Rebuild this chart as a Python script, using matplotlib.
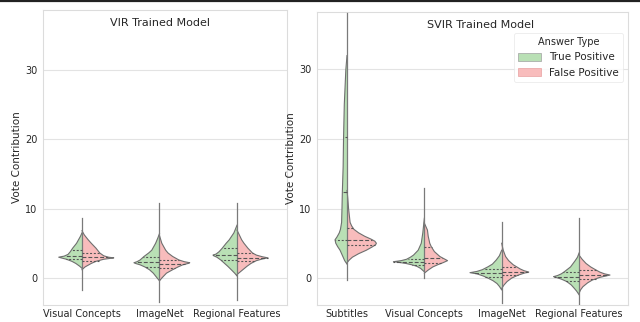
import matplotlib
matplotlib.use("Agg")
import matplotlib.pyplot as plt
from matplotlib.patches import Patch
from matplotlib.lines import Line2D
import numpy as np

# categories
vir_cats = ["Visual Concepts", "ImageNet", "Regional Features"]
svir_cats = ["Subtitles", "Visual Concepts", "ImageNet", "Regional Features"]

# violin outlines: (value, half width) bottom -> top
# VIR model, true positive (green, left half)
vir_tp = [
    [(1.4, 0), (1.7, 0.03), (2.1, 0.08), (2.4, 0.13), (2.7, 0.20), (2.9, 0.27),
     (3.0, 0.30), (3.15, 0.23), (3.4, 0.18), (3.8, 0.15), (4.3, 0.12), (5.0, 0.07),
     (5.5, 0.045), (6.0, 0.02), (6.5, 0)],
    [(-0.4, 0), (0.0, 0.03), (0.7, 0.08), (1.2, 0.13), (1.6, 0.19), (1.9, 0.25),
     (2.1, 0.31), (2.2, 0.33), (2.35, 0.29), (2.6, 0.25), (3.1, 0.20), (3.6, 0.14),
     (4.0, 0.10), (5.0, 0.05), (5.8, 0.02), (6.4, 0)],
    [(0.3, 0), (0.7, 0.03), (1.15, 0.07), (1.7, 0.12), (2.1, 0.16), (2.6, 0.21),
     (3.0, 0.26), (3.2, 0.30), (3.3, 0.31), (3.45, 0.27), (3.8, 0.23), (4.3, 0.19),
     (5.0, 0.14), (5.5, 0.10), (6.5, 0.04), (7.6, 0)],
]
# VIR model, false positive (red, right half)
vir_fp = [
    [(1.2, 0), (1.6, 0.04), (2.1, 0.12), (2.4, 0.18), (2.7, 0.28), (2.85, 0.38),
     (2.9, 0.41), (3.0, 0.34), (3.2, 0.28), (3.6, 0.23), (4.3, 0.18), (5.0, 0.12),
     (5.5, 0.08), (6.2, 0.03), (6.8, 0)],
    [(-0.4, 0), (0.0, 0.03), (0.7, 0.09), (1.2, 0.17), (1.6, 0.24), (1.9, 0.30),
     (2.1, 0.37), (2.2, 0.39), (2.35, 0.32), (2.6, 0.25), (3.1, 0.17), (3.6, 0.11),
     (4.0, 0.08), (5.0, 0.03), (6.1, 0)],
    [(0.5, 0), (1.15, 0.07), (1.7, 0.13), (2.1, 0.18), (2.5, 0.25), (2.75, 0.33),
     (2.9, 0.40), (3.05, 0.33), (3.3, 0.25), (3.6, 0.20), (4.3, 0.14), (5.0, 0.09),
     (5.5, 0.06), (6.2, 0.03), (6.9, 0)],
]
# SVIR model, true positive
svir_tp = [
    [(2.0, 0), (2.5, 0.03), (3.0, 0.05), (3.5, 0.07), (4.0, 0.09), (4.5, 0.12),
     (5.0, 0.145), (5.5, 0.155), (5.9, 0.13), (6.5, 0.10), (7.0, 0.085), (8.0, 0.07),
     (10.0, 0.065), (12.5, 0.06), (16.0, 0.05), (20.0, 0.045), (25.0, 0.035),
     (30.0, 0.015), (32.0, 0)],
    [(0.9, 0), (1.4, 0.05), (1.7, 0.10), (1.9, 0.16), (2.1, 0.24), (2.25, 0.33),
     (2.35, 0.40), (2.5, 0.30), (2.7, 0.23), (3.0, 0.18), (3.3, 0.14), (4.0, 0.08),
     (5.0, 0.04), (6.5, 0.02), (8.6, 0)],
    [(-1.7, 0), (-1.2, 0.03), (-0.8, 0.06), (-0.4, 0.11), (-0.05, 0.17), (0.3, 0.24),
     (0.6, 0.32), (0.77, 0.41), (0.95, 0.32), (1.2, 0.25), (1.6, 0.18), (2.0, 0.12),
     (2.6, 0.07), (3.2, 0.03), (4.0, 0)],
    [(-2.4, 0), (-1.9, 0.03), (-1.5, 0.06), (-1.0, 0.10), (-0.5, 0.16), (-0.15, 0.23),
     (0.1, 0.30), (0.2, 0.33), (0.35, 0.28), (0.6, 0.23), (0.9, 0.19), (1.6, 0.11),
     (2.5, 0.05), (3.0, 0.02), (3.6, 0)],
]
# SVIR model, false positive
svir_fp = [
    [(2.2, 0), (2.6, 0.03), (3.0, 0.07), (3.5, 0.15), (4.0, 0.25), (4.5, 0.33),
     (4.8, 0.37), (5.0, 0.38), (5.3, 0.36), (5.6, 0.31), (6.0, 0.23), (6.5, 0.15),
     (7.0, 0.09), (7.5, 0.06), (8.0, 0.04), (9.0, 0.03), (10.0, 0.02), (11.5, 0.01),
     (12.6, 0)],
    [(0.7, 0), (1.15, 0.05), (1.6, 0.11), (1.9, 0.17), (2.2, 0.24), (2.5, 0.30),
     (2.8, 0.25), (3.1, 0.20), (3.8, 0.13), (4.5, 0.09), (5.0, 0.07), (6.0, 0.05),
     (6.9, 0.04), (7.9, 0)],
    [(-1.5, 0), (-1.0, 0.03), (-0.5, 0.07), (0.0, 0.13), (0.4, 0.21), (0.7, 0.29),
     (0.86, 0.35), (1.05, 0.29), (1.3, 0.24), (1.9, 0.15), (2.5, 0.09), (3.1, 0.05),
     (4.0, 0.02), (5.0, 0)],
    [(-2.2, 0), (-1.7, 0.02), (-1.25, 0.05), (-0.7, 0.11), (-0.3, 0.17), (0.1, 0.27),
     (0.3, 0.35), (0.43, 0.40), (0.6, 0.33), (0.85, 0.27), (1.15, 0.22), (1.6, 0.15),
     (2.1, 0.09), (2.7, 0.04), (3.3, 0)],
]

# thin tails (min, max)
vir_range = [(-1.7, 8.7), (-3.4, 10.8), (-3.2, 10.8)]
svir_range = [(-0.3, 38.1), (0.0, 12.9), (-3.6, 8.0), (-4.1, 8.6)]

# quartiles (q1, median, q3)
vir_tp_q = [(2.7, 3.2, 4.0), (1.6, 2.3, 3.0), (2.6, 3.3, 4.3)]
vir_fp_q = [(2.5, 3.0, 3.6), (1.4, 2.0, 2.6), (2.4, 2.9, 3.6)]
svir_tp_q = [(5.5, 12.4, 20.3), (1.9, 2.35, 2.8), (0.2, 0.7, 1.3), (-0.4, 0.2, 0.8)]
svir_fp_q = [(4.75, 5.5, 7.2), (2.1, 2.9, 4.4), (0.4, 0.9, 1.6), (-0.1, 0.5, 1.1)]

green = "#b9e0b5"
red = "#f8bcbc"
edge = "#6f6f6f"
txt = "#262626"


def half_violin(ax, pos, prof, quart, side, color):
    ys = np.array([p[0] for p in prof])
    ws = np.array([p[1] for p in prof])
    xs = pos + side * ws
    ax.fill_betweenx(ys, xs, pos, facecolor=color, edgecolor="none", zorder=2)
    ax.plot(xs, ys, color=edge, lw=0.8, zorder=3)
    for i, q in enumerate(quart):
        w = np.interp(q, ys, ws)
        ls = (0, (3.5, 1.8)) if i == 1 else (0, (1.8, 1.6))
        ax.plot([pos, pos + side * w], [q, q], color="#555555", lw=0.8, ls=ls, zorder=4)


def panel(ax, cats, tp, fp, rng, tpq, fpq, title, tx):
    for i in range(len(cats)):
        half_violin(ax, i, tp[i], tpq[i], -1, green)
        half_violin(ax, i, fp[i], fpq[i], 1, red)
        ax.plot([i, i], rng[i], color="#7a7a7a", lw=0.9, zorder=3)
    ax.set_xticks(range(len(cats)))
    ax.set_xticklabels(cats, fontsize=7, color=txt)
    ax.set_yticks([0, 10, 20, 30])
    ax.tick_params(axis="y", labelsize=7, colors=txt, length=0, pad=4)
    ax.tick_params(axis="x", length=0, pad=3)
    ax.set_ylabel("Vote Contribution", fontsize=7.5, color=txt, labelpad=2)
    ax.yaxis.grid(True, color="#e3e3e3", lw=0.8, zorder=0)
    ax.set_axisbelow(True)
    for s in ax.spines.values():
        s.set_color("#dcdcdc")
        s.set_linewidth(0.8)
    ax.text(tx, 0.957, title, transform=ax.transAxes, ha="center", va="center",
            fontsize=8, color=txt)


fig = plt.figure(figsize=(6.4, 3.22), dpi=100)
ax1 = fig.add_axes([43 / 640, 17 / 322, 244 / 640, 295 / 322])
ax2 = fig.add_axes([317 / 640, 17 / 322, 311 / 640, 293 / 322])

panel(ax1, vir_cats, vir_tp, vir_fp, vir_range, vir_tp_q, vir_fp_q, "VIR Trained Model", 0.48)
ax1.set_xlim(-0.503, 2.645)
ax1.set_ylim(-3.88, 38.56)

panel(ax2, svir_cats, svir_tp, svir_fp, svir_range, svir_tp_q, svir_fp_q, "SVIR Trained Model", 0.527)
ax2.set_xlim(-0.388, 3.633)
ax2.set_ylim(-3.88, 38.27)

handles = [Patch(facecolor=green, edgecolor="#a0a0a0", lw=0.5, label="True Positive"),
           Patch(facecolor=red, edgecolor="#e8a0a0", lw=0.5, label="False Positive")]
leg = ax2.legend(handles=handles, title="Answer Type", loc="upper right",
                 bbox_to_anchor=(0.984, 0.928), borderaxespad=0, fontsize=7.5,
                 title_fontsize=7, frameon=True, handlelength=2.2, handleheight=0.9)
leg.get_frame().set_edgecolor("#e6e6e6")
leg.get_frame().set_linewidth(0.6)
for t in leg.get_texts():
    t.set_color(txt)
leg.get_title().set_color(txt)

# dark rule along the top edge
fig.add_artist(Line2D([0, 1], [0.997, 0.997], transform=fig.transFigure, color="#222222", lw=1.6))

fig.savefig("out.png", dpi=100)
